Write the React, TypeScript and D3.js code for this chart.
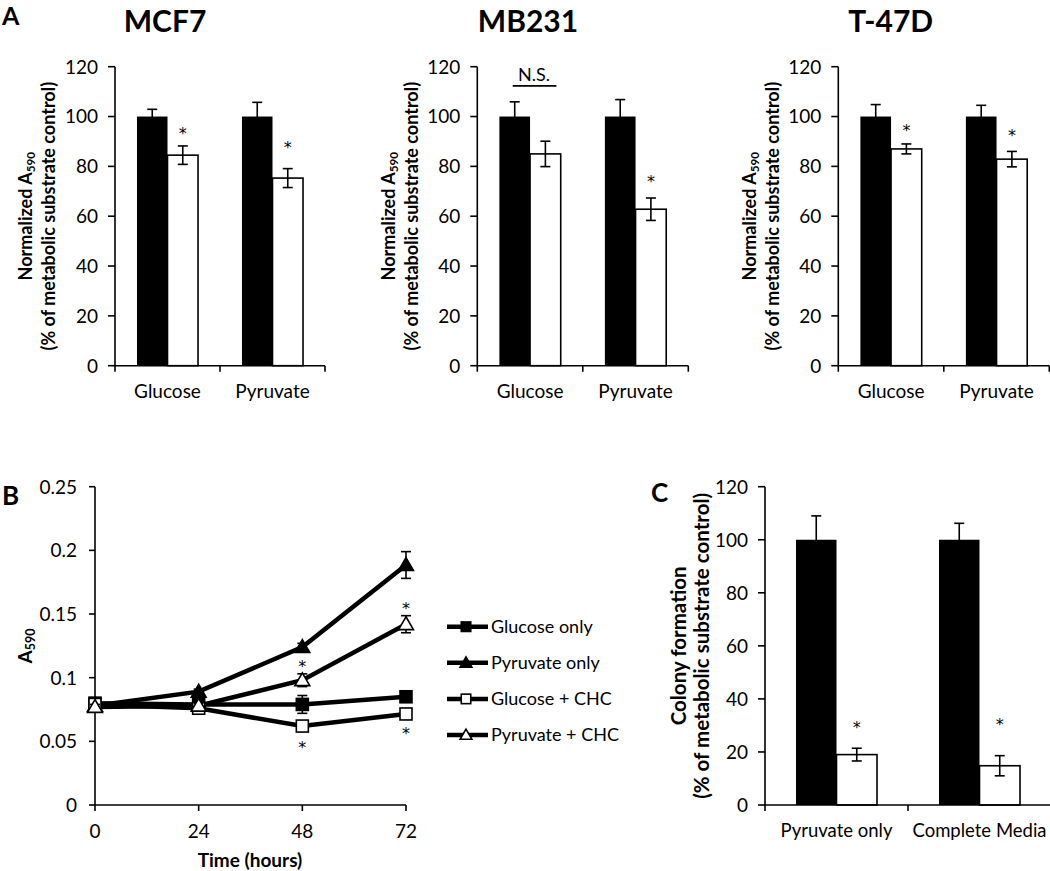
import React from 'react';
import * as d3 from 'd3';

const FONT = 'Lato, "Open Sans", sans-serif';
const STAR_FONT = '"DejaVu Sans", sans-serif';

// ---------- Panel A data ----------
const cellLines = ['MCF7', 'MB231', 'T-47D'];
const substrates = ['Glucose', 'Pyruvate'];
const seriesKeys = ['control', 'treated'];
const yTicksA = [0, 20, 40, 60, 80, 100, 120];

const mcf7Control = [100, 100];
const mcf7ControlErr = [2.9, 5.7];
const mcf7Treated = [84.5, 75.3];
const mcf7TreatedErr = [3.7, 3.8];
const mcf7Stars = [94.4, 88.6];

const mb231Control = [100, 100];
const mb231ControlErr = [5.9, 6.8];
const mb231Treated = [85, 62.8];
const mb231TreatedErr = [5.1, 4.5];
const mb231Stars = [null, 75];

const t47dControl = [100, 100];
const t47dControlErr = [4.8, 4.5];
const t47dTreated = [87, 82.9];
const t47dTreatedErr = [2, 3.1];
const t47dStars = [95.5, 93.6];

// ---------- Panel B data ----------
const hours = [0, 24, 48, 72];
const yTicksB = [0, 0.05, 0.1, 0.15, 0.2, 0.25];
const glucoseOnly = [0.08, 0.079, 0.079, 0.085];
const glucoseOnlyErr = [0.002, 0.003, 0.007, 0.002];
const pyruvateOnly = [0.078, 0.089, 0.124, 0.1885];
const pyruvateOnlyErr = [0.002, 0.002, 0.003, 0.0105];
const glucoseCHC = [0.079, 0.076, 0.062, 0.0715];
const glucoseCHCErr = [0.002, 0.002, 0.003, 0.003];
const pyruvateCHC = [0.077, 0.078, 0.098, 0.142];
const pyruvateCHCErr = [0.002, 0.002, 0.005, 0.0067];
const starsAbovePyrCHC = [null, null, 0.1113, 0.157];
const starsBelowGluCHC = [null, null, 0.0479, 0.0584];
const legendLabels = ['Glucose only', 'Pyruvate only', 'Glucose + CHC', 'Pyruvate + CHC'];

// ---------- Panel C data ----------
const colonyCategories = ['Pyruvate only', 'Complete Media'];
const yTicksC = [0, 20, 40, 60, 80, 100, 120];
const colonyControl = [100, 100];
const colonyControlErr = [9, 6.2];
const colonyTreated = [19, 14.8];
const colonyTreatedErr = [2.4, 3.8];
const colonyStars = [30.5, 31.4];

type BarProps = {
  x0: number; x1: number; yTop: number; yBottom: number; max: number;
  categories: string[]; control: number[]; controlErr: number[];
  treated: number[]; treatedErr: number[]; stars: (number | null)[];
  ticks: number[]; barPad: number; label1: React.ReactNode; label2: string;
  labelSize: number; l1Off: number; l2Off: number; ns?: number | null; catSize: number;
};

function Star(props: { x: number; y: number }) {
  return (
    <text x={props.x} y={props.y + 8.5} textAnchor="middle" fontSize={16} fill="#000" fontFamily={STAR_FONT}>*</text>
  );
}

function BarChart(p: BarProps) {
  const y = d3.scaleLinear().domain([0, p.max]).range([p.yBottom, p.yTop]);
  const x = d3.scaleBand<string>().domain(p.categories).range([p.x0, p.x1]).paddingInner(0).paddingOuter(0);
  const sub = d3.scaleBand<string>().domain(seriesKeys).range([0, x.bandwidth()]).paddingInner(0).paddingOuter(p.barPad);
  const bw = sub.bandwidth();
  const cap = 5;
  const yMid = (p.yTop + p.yBottom) / 2;
  return (
    <g>
      {p.categories.map((c, i) => {
        const xc = (x(c) as number) + (sub('control') as number);
        const xt = (x(c) as number) + (sub('treated') as number);
        const ec = [xc + bw / 2, p.control[i], p.controlErr[i]];
        const et = [xt + bw / 2, p.treated[i], p.treatedErr[i]];
        return (
          <g key={c}>
            <rect x={xc} y={y(p.control[i])} width={bw} height={y(0) - y(p.control[i])} fill="#000" />
            <rect x={xt} y={y(p.treated[i])} width={bw} height={y(0) - y(p.treated[i])} fill="#fff" stroke="#000" strokeWidth={1.6} />
            {[ec, et].map((e, k) => (
              <g key={k} stroke="#000" strokeWidth={1.6}>
                <line x1={e[0]} x2={e[0]} y1={y(e[1] - e[2])} y2={y(e[1] + e[2])} />
                <line x1={e[0] - cap} x2={e[0] + cap} y1={y(e[1] + e[2])} y2={y(e[1] + e[2])} />
                <line x1={e[0] - cap} x2={e[0] + cap} y1={y(e[1] - e[2])} y2={y(e[1] - e[2])} />
              </g>
            ))}
            {p.stars[i] != null && <Star x={xt + bw / 2} y={y(p.stars[i] as number)} />}
            {p.ns != null && i === 0 && (
              <g>
                <line x1={xc + bw / 2 - 2} x2={xt + bw / 2 + 11} y1={y(p.ns)} y2={y(p.ns)} stroke="#000" strokeWidth={1.6} />
                <text x={(xc + xt + bw) / 2 + 4} y={y(p.ns) - 5} textAnchor="middle" fontSize={18} fontFamily={FONT}>N.S.</text>
              </g>
            )}
            <text x={(x(c) as number) + x.bandwidth() / 2} y={y(0) + 32} textAnchor="middle" fontSize={p.catSize} fontFamily={FONT}>{c}</text>
          </g>
        );
      })}
      <line x1={p.x0} x2={p.x0} y1={p.yTop} y2={p.yBottom} stroke="#000" strokeWidth={1.6} />
      <line x1={p.x0} x2={p.x1} y1={p.yBottom} y2={p.yBottom} stroke="#000" strokeWidth={1.6} />
      {p.ticks.map(t => (
        <g key={t}>
          <line x1={p.x0 - 7} x2={p.x0} y1={y(t)} y2={y(t)} stroke="#000" strokeWidth={1.6} />
          <text x={p.x0 - 17} y={y(t)} dy="0.36em" textAnchor="end" fontSize={19} fontFamily={FONT}>{t}</text>
        </g>
      ))}
      {[0, 1, 2].map(k => {
        const xx = p.x0 + (k * (p.x1 - p.x0)) / 2;
        return <line key={k} x1={xx} x2={xx} y1={p.yBottom} y2={p.yBottom + 6} stroke="#000" strokeWidth={1.6} />;
      })}
      <text transform={`translate(${p.x0 - p.l1Off},${yMid}) rotate(-90)`} textAnchor="middle" dy="0.35em" fontSize={p.labelSize} fontWeight="bold" fontFamily={FONT}>{p.label1}</text>
      <text transform={`translate(${p.x0 - p.l2Off},${yMid}) rotate(-90)`} textAnchor="middle" dy="0.35em" fontSize={p.labelSize} fontWeight="bold" fontFamily={FONT}>{p.label2}</text>
    </g>
  );
}

function A590(props: { size: number }) {
  return (
    <>
      <tspan>Normalized A</tspan>
      <tspan fontSize={props.size * 0.65} dy="0.25em">590</tspan>
    </>
  );
}

function PanelB() {
  const x = d3.scaleLinear().domain([0, 72]).range([95, 406]);
  const y = d3.scaleLinear().domain([0, 0.25]).range([805, 486.7]);
  const line = d3.line<number>().x((_, i) => x(hours[i])).y(d => y(d));
  const series = [
    { v: glucoseOnly, e: glucoseOnlyErr, shape: 'square', fill: '#000' },
    { v: pyruvateOnly, e: pyruvateOnlyErr, shape: 'tri', fill: '#000' },
    { v: glucoseCHC, e: glucoseCHCErr, shape: 'square', fill: '#fff' },
    { v: pyruvateCHC, e: pyruvateCHCErr, shape: 'tri', fill: '#fff' },
  ];
  const marker = (shape: string, fill: string, cx: number, cy: number, s: number) =>
    shape === 'square' ? (
      <rect x={cx - s / 2} y={cy - s / 2} width={s} height={s} fill={fill} stroke="#000" strokeWidth={1.6} />
    ) : (
      <path d={`M${cx},${cy - s * 0.62}L${cx + s * 0.62},${cy + s * 0.45}L${cx - s * 0.62},${cy + s * 0.45}Z`} fill={fill} stroke="#000" strokeWidth={1.6} />
    );
  const fmt = (t: number) => String(+t.toFixed(2));
  return (
    <g>
      <line x1={95} x2={95} y1={486.7} y2={805} stroke="#000" strokeWidth={1.6} />
      <line x1={95} x2={406} y1={805} y2={805} stroke="#000" strokeWidth={1.6} />
      {yTicksB.map(t => (
        <g key={t}>
          <line x1={89} x2={95} y1={y(t)} y2={y(t)} stroke="#000" strokeWidth={1.6} />
          <text x={77} y={y(t)} dy="0.36em" textAnchor="end" fontSize={19} fontFamily={FONT}>{fmt(t)}</text>
        </g>
      ))}
      {hours.map(h => (
        <g key={h}>
          <line x1={x(h)} x2={x(h)} y1={805} y2={811} stroke="#000" strokeWidth={1.6} />
          <text x={x(h)} y={838} textAnchor="middle" fontSize={19} fontFamily={FONT}>{h}</text>
        </g>
      ))}
      <text x={250} y={867} textAnchor="middle" fontSize={19} fontWeight="bold" fontFamily={FONT}>Time (hours)</text>
      <text transform={`translate(25,646) rotate(-90)`} textAnchor="middle" dy="0.35em" fontSize={19} fontWeight="bold" fontFamily={FONT}>
        <tspan>A</tspan><tspan fontSize={12.5} dy="0.25em">590</tspan>
      </text>
      {series.map((s, k) => (
        <path key={k} d={line(s.v) as string} fill="none" stroke="#000" strokeWidth={4.5} />
      ))}
      {series.map((s, k) => (
        <g key={k}>
          {s.v.map((v, i) => (
            <g key={i} stroke="#000" strokeWidth={1.6}>
              <line x1={x(hours[i])} x2={x(hours[i])} y1={y(v - s.e[i])} y2={y(v + s.e[i])} />
              <line x1={x(hours[i]) - 5} x2={x(hours[i]) + 5} y1={y(v + s.e[i])} y2={y(v + s.e[i])} />
              <line x1={x(hours[i]) - 5} x2={x(hours[i]) + 5} y1={y(v - s.e[i])} y2={y(v - s.e[i])} />
            </g>
          ))}
          {s.v.map((v, i) => (
            <g key={'m' + i}>{marker(s.shape, s.fill, x(hours[i]), y(v), 12)}</g>
          ))}
        </g>
      ))}
      {[starsAbovePyrCHC, starsBelowGluCHC].map((arr, k) =>
        arr.map((v, i) => (v == null ? null : <Star key={k + '-' + i} x={x(hours[i])} y={y(v)} />))
      )}
      {series.map((s, k) => {
        const ly = 626.7 + k * 36.1;
        return (
          <g key={'lg' + k}>
            <line x1={447} x2={488} y1={ly} y2={ly} stroke="#000" strokeWidth={4.5} />
            {marker(s.shape, s.fill, 466, ly, 9.5)}
            <text x={491} y={ly} dy="0.36em" fontSize={18} fontFamily={FONT}>{legendLabels[k]}</text>
          </g>
        );
      })}
    </g>
  );
}

export default function App() {
  const yTopA = 66.7, yBotA = 365.7;
  return (
    <svg width={1050} height={871} style={{ position: 'absolute', left: 0, top: 0, background: '#fff' }}>
      <rect width={1050} height={871} fill="#fff" />
      <text x={2} y={25} fontSize={25} fontWeight="bold" fontFamily={FONT}>A</text>
      <text x={2} y={505} fontSize={26} fontWeight="bold" fontFamily={FONT}>B</text>
      <text x={651} y={502} fontSize={26} fontWeight="bold" fontFamily={FONT}>C</text>
      <text x={165} y={32} textAnchor="middle" fontSize={30} fontWeight="bold" fontFamily={FONT}>{cellLines[0]}</text>
      <text x={528} y={32} textAnchor="middle" fontSize={30} fontWeight="bold" fontFamily={FONT}>{cellLines[1]}</text>
      <text x={890.7} y={32} textAnchor="middle" fontSize={30} fontWeight="bold" fontFamily={FONT}>{cellLines[2]}</text>
      <BarChart x0={115} x1={325} yTop={yTopA} yBottom={yBotA} max={120} categories={substrates}
        control={mcf7Control} controlErr={mcf7ControlErr} treated={mcf7Treated} treatedErr={mcf7TreatedErr}
        stars={mcf7Stars} ticks={yTicksA} barPad={0.72} label1={<A590 size={18} />}
        label2="(% of metabolic substrate control)" labelSize={18} l1Off={89} l2Off={66} catSize={19} />
      <BarChart x0={477.3} x1={688.3} yTop={yTopA} yBottom={yBotA} max={120} categories={substrates}
        control={mb231Control} controlErr={mb231ControlErr} treated={mb231Treated} treatedErr={mb231TreatedErr}
        stars={mb231Stars} ticks={yTicksA} barPad={0.72} label1={<A590 size={18} />}
        label2="(% of metabolic substrate control)" labelSize={18} l1Off={89} l2Off={66} ns={112.3} catSize={19} />
      <BarChart x0={838.3} x1={1049.3} yTop={yTopA} yBottom={yBotA} max={120} categories={substrates}
        control={t47dControl} controlErr={t47dControlErr} treated={t47dTreated} treatedErr={t47dTreatedErr}
        stars={t47dStars} ticks={yTicksA} barPad={0.72} label1={<A590 size={18} />}
        label2="(% of metabolic substrate control)" labelSize={18} l1Off={89} l2Off={66} catSize={19} />
      <PanelB />
      <BarChart x0={765} x1={1051} yTop={486.7} yBottom={805} max={120} categories={colonyCategories}
        control={colonyControl} controlErr={colonyControlErr} treated={colonyTreated} treatedErr={colonyTreatedErr}
        stars={colonyStars} ticks={yTicksC} barPad={0.765} label1="Colony formation"
        label2="(% of metabolic substrate control)" labelSize={20.5} l1Off={85.7} l2Off={63.3} catSize={18.5} />
    </svg>
  );
}
